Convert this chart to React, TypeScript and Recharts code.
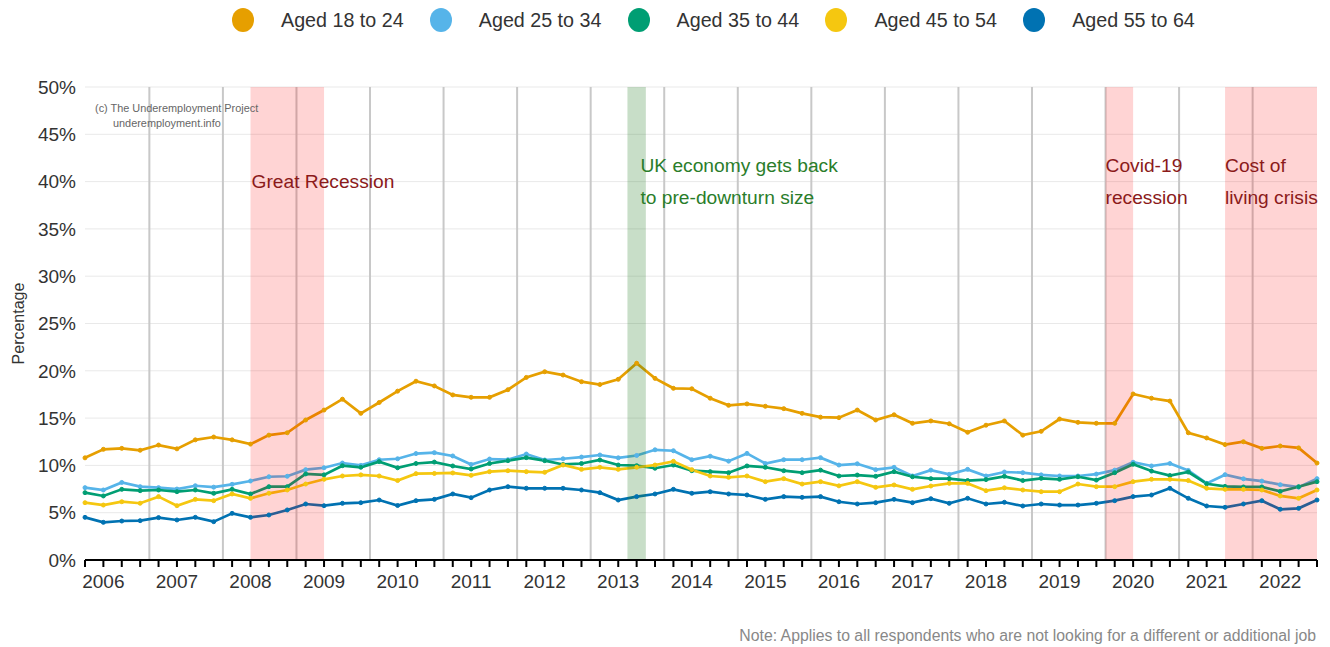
import React from 'react';
import { LineChart, Line, XAxis, YAxis, CartesianGrid, ReferenceArea, ReferenceLine, Legend } from 'recharts';

// ---- data (quarterly observations, index 0 = first quarter shown) ----
const yearLabels = ['2006', '2007', '2008', '2009', '2010', '2011', '2012', '2013', '2014', '2015', '2016', '2017', '2018', '2019', '2020', '2021', '2022'];
const firstYearLabelIndex = 1;

const aged18to24 = [10.8, 11.7, 11.8, 11.6, 12.15, 11.75, 12.7, 13.0, 12.7, 12.25, 13.2, 13.45, 14.8, 15.85, 17.0, 15.5, 16.65, 17.85, 18.9, 18.4, 17.45, 17.2, 17.2, 18.0, 19.3, 19.9, 19.55, 18.85, 18.55, 19.1, 20.8, 19.2, 18.15, 18.1, 17.1, 16.35, 16.5, 16.25, 16.0, 15.5, 15.1, 15.05, 15.85, 14.8, 15.35, 14.45, 14.7, 14.4, 13.5, 14.25, 14.7, 13.2, 13.6, 14.9, 14.55, 14.45, 14.45, 17.55, 17.1, 16.8, 13.45, 12.9, 12.2, 12.5, 11.8, 12.05, 11.85, 10.25];
const aged25to34 = [7.65, 7.4, 8.2, 7.75, 7.65, 7.5, 7.85, 7.7, 8.0, 8.35, 8.8, 8.85, 9.55, 9.75, 10.25, 10.0, 10.6, 10.7, 11.25, 11.35, 11.0, 10.1, 10.67, 10.6, 11.2, 10.57, 10.7, 10.88, 11.1, 10.8, 11.05, 11.65, 11.55, 10.6, 10.97, 10.45, 11.27, 10.2, 10.6, 10.6, 10.82, 10.04, 10.17, 9.55, 9.8, 8.88, 9.5, 9.05, 9.58, 8.88, 9.3, 9.23, 9.0, 8.88, 8.88, 9.08, 9.5, 10.33, 9.94, 10.2, 9.47, 8.1, 9.02, 8.58, 8.34, 7.96, 7.7, 8.6];
const aged35to44 = [7.12, 6.77, 7.47, 7.33, 7.4, 7.22, 7.4, 7.05, 7.47, 6.98, 7.75, 7.75, 9.1, 9.0, 9.97, 9.8, 10.4, 9.75, 10.2, 10.35, 9.94, 9.62, 10.2, 10.5, 10.82, 10.5, 10.1, 10.2, 10.57, 10.04, 9.97, 9.7, 10.04, 9.44, 9.34, 9.23, 9.94, 9.8, 9.44, 9.23, 9.5, 8.88, 8.98, 8.84, 9.34, 8.8, 8.6, 8.6, 8.4, 8.5, 8.84, 8.4, 8.63, 8.53, 8.8, 8.45, 9.23, 10.12, 9.4, 8.93, 9.3, 8.06, 7.78, 7.72, 7.72, 7.25, 7.75, 8.28];
const aged45to54 = [6.06, 5.81, 6.16, 6.0, 6.7, 5.74, 6.41, 6.27, 6.98, 6.52, 7.05, 7.4, 8.03, 8.53, 8.88, 9.0, 8.88, 8.4, 9.13, 9.15, 9.2, 8.95, 9.34, 9.44, 9.34, 9.27, 10.04, 9.58, 9.8, 9.58, 9.8, 10.04, 10.43, 9.55, 8.88, 8.74, 8.88, 8.28, 8.6, 8.03, 8.28, 7.84, 8.28, 7.68, 7.93, 7.47, 7.82, 8.1, 8.1, 7.33, 7.63, 7.4, 7.22, 7.22, 8.03, 7.75, 7.75, 8.28, 8.53, 8.53, 8.4, 7.58, 7.47, 7.47, 7.4, 6.77, 6.52, 7.4];
const aged55to64 = [4.51, 3.98, 4.12, 4.16, 4.48, 4.23, 4.51, 4.05, 4.93, 4.51, 4.76, 5.29, 5.92, 5.74, 5.99, 6.06, 6.34, 5.76, 6.27, 6.41, 6.98, 6.59, 7.4, 7.75, 7.58, 7.58, 7.58, 7.4, 7.12, 6.34, 6.7, 6.98, 7.47, 7.05, 7.22, 6.98, 6.87, 6.41, 6.7, 6.62, 6.7, 6.16, 5.92, 6.06, 6.41, 6.06, 6.48, 5.99, 6.52, 5.92, 6.1, 5.71, 5.92, 5.81, 5.81, 5.99, 6.27, 6.7, 6.87, 7.58, 6.52, 5.71, 5.57, 5.92, 6.27, 5.36, 5.46, 6.34];

const seriesNames = ['Aged 18 to 24', 'Aged 25 to 34', 'Aged 35 to 44', 'Aged 45 to 54', 'Aged 55 to 64'];
const seriesValues = [aged18to24, aged25to34, aged35to44, aged45to54, aged55to64];

const yTicks = [0, 5, 10, 15, 20, 25, 30, 35, 40, 45, 50];
const yearDividers = [3.5, 7.5, 11.5, 15.5, 19.5, 23.5, 27.5, 31.5, 35.5, 39.5, 43.5, 47.5, 51.5, 55.5, 59.5, 63.5];

const bandStarts = [9, 29.5, 55.5, 62];
const bandEnds = [13, 30.5, 57, 67];
const bandKinds = ['recession', 'recovery', 'recession', 'recession'];
const bandTexts = [['Great Recession'], ['UK economy gets back', 'to pre-downturn size'], ['Covid-19', 'recession'], ['Cost of', 'living crisis']];

// ---- styles ----
const seriesColors = ['#E69F00', '#56B4E9', '#009E73', '#F5C710', '#0072B2'];
const bandFill: Record<string, string> = { recession: '#ff0000', recovery: '#237b23' };
const bandOpacity: Record<string, number> = { recession: 0.17, recovery: 0.25 };
const bandTextColor: Record<string, string> = { recession: '#8b1a1a', recovery: '#2a7d2a' };
const bandTextDx = [1, 13, 0, 0];
const bandTextTop = [[101], [85, 117], [85, 117], [85, 117]];
const FONT = "'Liberation Sans', Arial, Helvetica, sans-serif";

const keys = ['a', 'b', 'c', 'd', 'e'];
const nPoints = aged18to24.length;
const chartData = aged18to24.map((_, i) => {
  const row: Record<string, number> = { i };
  seriesValues.forEach((vals, k) => { row[keys[k]] = vals[i]; });
  return row;
});
const xTicks = chartData.map((r) => r.i);

const xTickLabel = (v: number) => {
  const off = v - firstYearLabelIndex;
  if (off >= 0 && off % 4 === 0) {
    const y = yearLabels[off / 4];
    return y ?? '';
  }
  return '';
};

const LegendContent = () => (
  <div style={{ position: 'relative', width: 1330, height: 40 }}>
    {seriesNames.map((name, k) => (
      <div key={name} style={{ position: 'absolute', left: 232 + k * 197.8, top: 8, height: 24, display: 'flex', alignItems: 'center' }}>
        <span style={{ display: 'inline-block', width: 22, height: 24, borderRadius: '50%', background: seriesColors[k] }} />
        <span style={{ marginLeft: 27, fontSize: 19.7, color: '#333', fontFamily: FONT, whiteSpace: 'nowrap' }}>{name}</span>
      </div>
    ))}
  </div>
);

const makeBandLabel = (idx: number) => (props: any) => {
  const vb = props.viewBox || {};
  const kind = bandKinds[idx];
  return (
    <g>
      {bandTexts[idx].map((t, j) => (
        <text key={j} x={vb.x + bandTextDx[idx]} y={vb.y + bandTextTop[idx][j]} fill={bandTextColor[kind]} fontSize={19.2} fontFamily={FONT}>
          {t}
        </text>
      ))}
    </g>
  );
};

const YLabel = (props: any) => {
  const vb = props.viewBox || { x: 0, y: 87, width: 85, height: 473 };
  const cx = vb.x + 24;
  const cy = vb.y + vb.height / 2;
  return (
    <text x={cx} y={cy} transform={`rotate(-90, ${cx}, ${cy})`} textAnchor="middle" fill="#333" fontSize={16} fontFamily={FONT}>
      Percentage
    </text>
  );
};

export default function App() {
  return (
    <div style={{ position: 'absolute', left: 0, top: 0, width: 1330, height: 647, background: '#fff', fontFamily: FONT }}>
      <LineChart width={1330} height={647} data={chartData} margin={{ top: 47, right: 13, bottom: 47, left: 0 }}>
        <Legend verticalAlign="top" align="left" wrapperStyle={{ top: 0, left: 0, width: 1330, height: 40 }} content={LegendContent} />
        <CartesianGrid vertical={false} stroke="#e9e9e9" strokeWidth={1} />
        <XAxis
          type="number"
          dataKey="i"
          domain={[0, nPoints - 1]}
          ticks={xTicks}
          interval={0}
          tickFormatter={xTickLabel}
          tickSize={7}
          tickMargin={8}
          height={40}
          axisLine={{ stroke: '#000', strokeWidth: 2 }}
          tickLine={{ stroke: '#000', strokeWidth: 2 }}
          tick={{ fill: '#333', fontSize: 19, fontFamily: FONT }}
        />
        <YAxis
          type="number"
          domain={[0, 50]}
          ticks={yTicks}
          interval={0}
          tickFormatter={(v: number) => `${v}%`}
          width={85}
          axisLine={false}
          tickLine={false}
          tickSize={6}
          tickMargin={3}
          tick={{ fill: '#333', fontSize: 19, fontFamily: FONT }}
          label={<YLabel />}
        />
        {yearDividers.map((x) => (
          <ReferenceLine key={`d${x}`} x={x} stroke="#c8c8c8" strokeWidth={2} zIndex={-50} ifOverflow="visible" />
        ))}
        {seriesNames.map((name, k) => (
          <Line
            key={name}
            name={name}
            type="linear"
            dataKey={keys[k]}
            stroke={seriesColors[k]}
            strokeWidth={2.7}
            dot={{ r: 2, fill: seriesColors[k], stroke: seriesColors[k], strokeWidth: 1 }}
            activeDot={false}
            isAnimationActive={false}
          />
        ))}
        {bandStarts.map((x1, idx) => (
          <ReferenceArea
            key={`b${idx}`}
            x1={x1}
            x2={bandEnds[idx]}
            y1={0}
            y2={50}
            fill={bandFill[bandKinds[idx]]}
            fillOpacity={bandOpacity[bandKinds[idx]]}
            stroke="none"
            zIndex={450}
            ifOverflow="visible"
            label={makeBandLabel(idx)}
          />
        ))}
      </LineChart>
      <div style={{ position: 'absolute', left: 95, top: 101, fontSize: 10.9, lineHeight: '15px', color: '#666', whiteSpace: 'nowrap' }}>
        <div>(c) The Underemployment Project</div>
        <div style={{ paddingLeft: 18 }}>underemployment.info</div>
      </div>
      <div style={{ position: 'absolute', right: 14, top: 626, fontSize: 15.8, lineHeight: '20px', color: '#888', whiteSpace: 'nowrap' }}>
        Note: Applies to all respondents who are not looking for a different or additional job
      </div>
    </div>
  );
}
